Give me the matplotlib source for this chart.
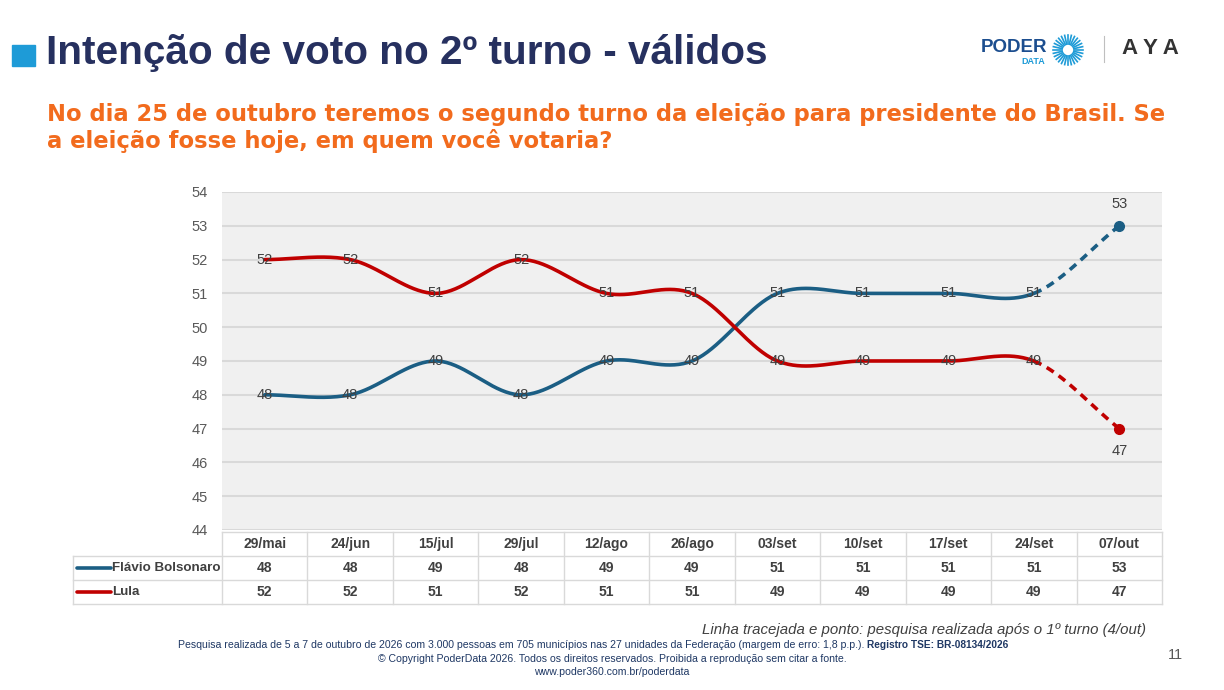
import numpy as np
import matplotlib
matplotlib.use("Agg")
import matplotlib.pyplot as plt
from matplotlib.lines import Line2D

plt.rcParams['font.family'] = ['Liberation Sans', 'DejaVu Sans']

# data
dates = ['29/mai', '24/jun', '15/jul', '29/jul', '12/ago', '26/ago',
         '03/set', '10/set', '17/set', '24/set', '07/out']
flavio = [48, 48, 49, 48, 49, 49, 51, 51, 51, 51, 53]
lula = [52, 52, 51, 52, 51, 51, 49, 49, 49, 49, 47]
names = ['Flávio Bolsonaro', 'Lula']
colors = ['#1B5E84', '#C00000']
yticks = list(range(44, 55))

W, H = 1224, 690


def fx(px):
    return px / W


def fy(py):
    return 1 - py / H


def smooth(vals, n=40):
    # Excel-like smoothed line (Catmull-Rom through the data points)
    v = np.asarray(vals, dtype=float)
    m = np.zeros_like(v)
    m[1:-1] = (v[2:] - v[:-2]) / 2
    m[0] = 0.0
    m[-1] = v[-1] - v[-2]
    segs = []
    t = np.linspace(0, 1, n)
    h00 = 2 * t**3 - 3 * t**2 + 1
    h10 = t**3 - 2 * t**2 + t
    h01 = -2 * t**3 + 3 * t**2
    h11 = t**3 - t**2
    for i in range(len(v) - 1):
        ys = h00 * v[i] + h10 * m[i] + h01 * v[i + 1] + h11 * m[i + 1]
        segs.append((i + t, ys))
    return segs


fig = plt.figure(figsize=(12.24, 6.9), dpi=100)

# main chart
ax = fig.add_axes([fx(222), fy(530), fx(1162) - fx(222), fy(192) - fy(530)])
ax.set_facecolor('#F0F0F0')
ax.set_xlim(-0.5, len(dates) - 0.5)
ax.set_ylim(44, 54)
for s in ax.spines.values():
    s.set_visible(False)
for yv in yticks:
    ax.axhline(yv, color='#D9D9D9', lw=1.5, zorder=1)
ax.set_yticks(yticks)
ax.set_yticklabels([str(v) for v in yticks], fontsize=10.5, color='#595959')
ax.tick_params(axis='y', length=0, pad=10)
ax.set_xticks([])

for vals, c, lab_dir in [(flavio, colors[0], 1), (lula, colors[1], -1)]:
    segs = smooth(vals)
    xs = np.concatenate([s[0] for s in segs[:-1]])
    ys = np.concatenate([s[1] for s in segs[:-1]])
    ax.plot(xs, ys, color=c, lw=2.6, zorder=3, solid_capstyle='round')
    ax.plot(segs[-1][0], segs[-1][1], color=c, lw=2.6, zorder=3,
            dashes=(2.3, 1.7))
    ax.plot(len(vals) - 1, vals[-1], 'o', color=c, ms=7, zorder=4)
    for i, v in enumerate(vals[:-1]):
        ax.text(i, v, str(v), ha='center', va='center', fontsize=10.5,
                color='#404040', zorder=5)
    ax.text(len(vals) - 1, vals[-1] + lab_dir * 0.45, str(vals[-1]),
            ha='center', va='bottom' if lab_dir > 0 else 'top',
            fontsize=10.5, color='#404040', zorder=5)

# data table under the chart
unit = (1162 - 222) / len(dates)
x_left = -0.5 - (222 - 73) / unit
tx = fig.add_axes([fx(73), fy(604), fx(1162) - fx(73), fy(532) - fy(604)])
tx.set_xlim(x_left, len(dates) - 0.5)
tx.set_ylim(3, 0)
tx.axis('off')
gc = '#D9D9D9'
tx.plot([-0.5, len(dates) - 0.5], [0, 0], color=gc, lw=1, clip_on=False)
for yy in [1, 2, 3]:
    tx.plot([x_left, len(dates) - 0.5], [yy, yy], color=gc, lw=1, clip_on=False)
for k in range(len(dates) + 1):
    tx.plot([k - 0.5, k - 0.5], [0, 3], color=gc, lw=1, clip_on=False)
tx.plot([x_left, x_left], [1, 3], color=gc, lw=1, clip_on=False)

for i, d in enumerate(dates):
    tx.text(i, 0.5, d, ha='center', va='center', fontsize=10,
            fontweight='bold', color='#404040')
for r, (vals, c, nm) in enumerate([(flavio, colors[0], names[0]),
                                   (lula, colors[1], names[1])]):
    yy = 1.5 + r
    for i, v in enumerate(vals):
        tx.text(i, yy, str(v), ha='center', va='center', fontsize=10,
                fontweight='bold', color='#404040')
    k0 = x_left + 4 / unit
    tx.plot([k0, k0 + 34 / unit], [yy, yy], color=c, lw=2.6,
            solid_capstyle='round')
    tx.text(k0 + 35 / unit, yy, nm, ha='left', va='center', fontsize=9.6,
            fontweight='bold', color='#404040')

# header
fig.patches.append(plt.Rectangle((fx(12), fy(66)), fx(23), fy(45) - fy(66),
                                 transform=fig.transFigure,
                                 color='#1E9BD7', figure=fig))
fig.text(fx(46), fy(53), 'Intenção de voto no 2º turno - válidos',
         fontsize=29.2, fontweight='bold', color='#26305F', va='center')
fig.text(fx(47), fy(115),
         'No dia 25 de outubro teremos o segundo turno da eleição para presidente do Brasil. Se',
         fontsize=16.3, fontweight='bold', color='#F26B1D', va='center',
         family='DejaVu Sans')
fig.text(fx(47), fy(141), 'a eleição fosse hoje, em quem você votaria?',
         fontsize=16.3, fontweight='bold', color='#F26B1D', va='center',
         family='DejaVu Sans')

# logos
fig.text(fx(1047), fy(47), 'PODER', fontsize=13.5, fontweight='bold',
         color='#1C4E8F', ha='right', va='center')
fig.text(fx(1045), fy(62), 'DATA', fontsize=6.5, fontweight='bold',
         color='#1E9BD7', ha='right', va='center')
cx, cy, r0, r1 = 1068, 50, 6, 15
for a in np.linspace(0, 2 * np.pi, 28, endpoint=False):
    fig.add_artist(Line2D([fx(cx + r0 * np.cos(a)), fx(cx + r1 * np.cos(a))],
                          [fy(cy + r0 * np.sin(a)), fy(cy + r1 * np.sin(a))],
                          color='#1E9BD7', lw=1.2, transform=fig.transFigure))
fig.add_artist(Line2D([fx(1104), fx(1104)], [fy(36), fy(62)], color='#BFBFBF',
                      lw=0.8, transform=fig.transFigure))
fig.text(fx(1150), fy(49), 'A Y A', fontsize=16, fontweight='bold',
         color='#333333', ha='center', va='center')

# footer
fig.text(fx(1146), fy(630),
         'Linha tracejada e ponto: pesquisa realizada após o 1º turno (4/out)',
         fontsize=10.8, style='italic', color='#404040', ha='right', va='center')
fig.text(fx(864), fy(645),
         'Pesquisa realizada de 5 a 7 de outubro de 2026 com 3.000 pessoas em 705 '
         'municípios nas 27 unidades da Federação (margem de erro: 1,8 p.p.).',
         fontsize=7.6, color='#1F3864', ha='right', va='center')
fig.text(fx(867), fy(645), 'Registro TSE: BR-08134/2026', fontsize=7.3,
         fontweight='bold', color='#1F3864', ha='left', va='center')
fig.text(fx(612), fy(659),
         '© Copyright PoderData 2026. Todos os direitos reservados. '
         'Proibida a reprodução sem citar a fonte.',
         fontsize=7.6, color='#1F3864', ha='center', va='center')
fig.text(fx(612), fy(672), 'www.poder360.com.br/poderdata', fontsize=7.6,
         color='#1F3864', ha='center', va='center')
fig.text(fx(1175), fy(655), '11', fontsize=10.5, color='#595959',
         ha='center', va='center')

fig.savefig('out.png', dpi=100)
